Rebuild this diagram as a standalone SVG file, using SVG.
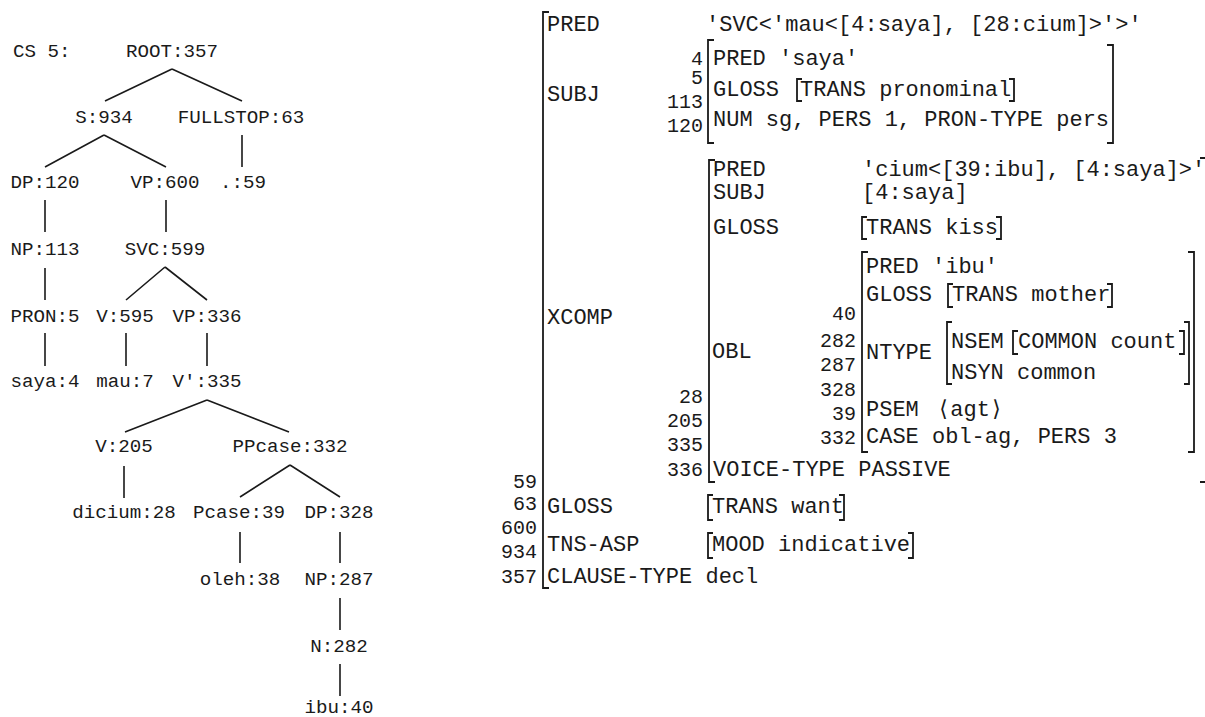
<svg xmlns="http://www.w3.org/2000/svg" width="1205" height="717" viewBox="0 0 1205 717">
<style>
.t{font-family:"Liberation Mono","DejaVu Sans Mono",monospace;font-size:19.2px;fill:#1a1a1a;text-anchor:middle}
.a{font-family:"Liberation Mono","DejaVu Sans Mono",monospace;font-size:22px;fill:#1a1a1a}
.e{text-anchor:end;font-size:20px}
.ln{stroke:#1a1a1a;stroke-width:1.6;fill:none}
.br{stroke:#1a1a1a;stroke-width:1.8;fill:none}
</style>
<rect width="1205" height="717" fill="#fff"/>
<text class="t" x="13" y="57" style="text-anchor:start">CS 5:</text>
<g id="connectors">
<path class="ln" d="M172 69L105 101M172 69L242 101"/>
<path class="ln" d="M104 135L45 167M104 135L166 167M242 135V167"/>
<path class="ln" d="M45 200V232M166 200V232"/>
<path class="ln" d="M45 268V300M165 267L126 300M165 267L207 300"/>
<path class="ln" d="M45 333V366M126 333V366M207 333V366"/>
<path class="ln" d="M207 400L125 432M207 400L289 432"/>
<path class="ln" d="M124 466V498M290 465L240 497M290 465L340 497"/>
<path class="ln" d="M240 532V563M340 532V563M340 598V630M340 664V696"/>
</g>
<g id="n-root"><text class="t" x="172" y="57">ROOT:357</text></g>
<g id="n-s934"><text class="t" x="104" y="123">S:934</text></g>
<g id="n-fullstop63"><text class="t" x="241" y="123">FULLSTOP:63</text></g>
<g id="n-dp120"><text class="t" x="45" y="188">DP:120</text></g>
<g id="n-vp600"><text class="t" x="165" y="188">VP:600</text></g>
<g id="n-dot59"><text class="t" x="243" y="188">.:59</text></g>
<g id="n-np113"><text class="t" x="45" y="255">NP:113</text></g>
<g id="n-svc599"><text class="t" x="165" y="255">SVC:599</text></g>
<g id="n-pron5"><text class="t" x="45" y="322">PRON:5</text></g>
<g id="n-v595"><text class="t" x="125" y="322">V:595</text></g>
<g id="n-vp336"><text class="t" x="207" y="322">VP:336</text></g>
<g id="n-saya4"><text class="t" x="45" y="387">saya:4</text></g>
<g id="n-mau7"><text class="t" x="125" y="387">mau:7</text></g>
<g id="n-vbar335"><text class="t" x="207" y="387">V':335</text></g>
<g id="n-v205"><text class="t" x="124" y="452">V:205</text></g>
<g id="n-ppcase332"><text class="t" x="290" y="452">PPcase:332</text></g>
<g id="n-dicium28"><text class="t" x="124" y="518">dicium:28</text></g>
<g id="n-pcase39"><text class="t" x="239" y="518">Pcase:39</text></g>
<g id="n-dp328"><text class="t" x="339" y="518">DP:328</text></g>
<g id="n-oleh38"><text class="t" x="240" y="585">oleh:38</text></g>
<g id="n-np287"><text class="t" x="339" y="585">NP:287</text></g>
<g id="n-n282"><text class="t" x="339" y="652">N:282</text></g>
<g id="n-ibu40"><text class="t" x="339" y="713">ibu:40</text></g>

<g id="fstructure">
<path class="br" d="M549 12H543V588H549"/>
<text class="a" x="547" y="31">PRED</text>
<text class="a" x="706" y="31">'SVC&lt;'mau&lt;[4:saya], [28:cium]&gt;'&gt;'</text>
<text class="a" x="547" y="101">SUBJ</text>
<g id="subj">
<text class="a e" x="703" y="65">4</text>
<text class="a e" x="703" y="84">5</text>
<text class="a e" x="703" y="108">113</text>
<text class="a e" x="703" y="132">120</text>
<path class="br" d="M714 40H708V143H714"/>
<path class="br" d="M1107 45H1113V143H1107"/>
<text class="a" x="713" y="65">PRED  'saya'</text>
<text class="a" x="713" y="96">GLOSS</text>
<path class="br" d="M802 79H797V101H802"/>
<text class="a" x="800" y="96">TRANS pronominal</text>
<path class="br" d="M1009 79H1014V101H1009"/>
<text class="a" x="713" y="126">NUM sg, PERS 1, PRON-TYPE pers</text>
</g>
<text class="a" x="547" y="324">XCOMP</text>
<g id="xcomp">
<path class="br" d="M715 160H709V482H715"/>
<path class="br" d="M1200 158H1207V482H1200"/>
<text class="a e" x="703" y="403">28</text>
<text class="a e" x="703" y="427">205</text>
<text class="a e" x="703" y="451">335</text>
<text class="a e" x="703" y="476">336</text>
<text class="a" x="713" y="176">PRED</text>
<text class="a" x="862" y="176">'cium&lt;[39:ibu], [4:saya]&gt;'</text>
<text class="a" x="713" y="199">SUBJ</text>
<text class="a" x="862" y="199">[4:saya]</text>
<text class="a" x="713" y="234">GLOSS</text>
<path class="br" d="M867 217H862V239H867"/>
<text class="a" x="866" y="234">TRANS kiss</text>
<path class="br" d="M996 217H1001V239H996"/>
<text class="a" x="712" y="358">OBL</text>
<g id="obl">
<text class="a e" x="856" y="320">40</text>
<text class="a e" x="856" y="347">282</text>
<text class="a e" x="856" y="371">287</text>
<text class="a e" x="856" y="396">328</text>
<text class="a e" x="856" y="420">39</text>
<text class="a e" x="856" y="444">332</text>
<path class="br" d="M868 252H862V452H868"/>
<path class="br" d="M1188 252H1194V452H1188"/>
<text class="a" x="866" y="273">PRED  'ibu'</text>
<text class="a" x="866" y="301">GLOSS</text>
<path class="br" d="M953 284H948V307H953"/>
<text class="a" x="952" y="301">TRANS mother</text>
<path class="br" d="M1107 284H1112V307H1107"/>
<text class="a" x="866" y="359">NTYPE</text>
<path class="br" d="M952 322H947V384H952"/>
<path class="br" d="M1184 322H1189V384H1184"/>
<text class="a" x="951" y="348">NSEM</text>
<path class="br" d="M1018 331H1013V354H1018"/>
<text class="a" x="1018" y="348">COMMON count</text>
<path class="br" d="M1179 331H1184V354H1179"/>
<text class="a" x="951" y="379">NSYN common</text>
<text class="a" x="866" y="416">PSEM</text>
<text class="a" x="937" y="416">⟨agt⟩</text>
<text class="a" x="866" y="443">CASE obl-ag, PERS 3</text>
</g>
<text class="a" x="713" y="476">VOICE-TYPE PASSIVE</text>
</g>
<text class="a e" x="537" y="488">59</text>
<text class="a e" x="537" y="510">63</text>
<text class="a e" x="537" y="534">600</text>
<text class="a e" x="537" y="558">934</text>
<text class="a e" x="537" y="583">357</text>
<text class="a" x="547" y="513">GLOSS</text>
<path class="br" d="M713 495H708V520H713"/>
<text class="a" x="712" y="513">TRANS want</text>
<path class="br" d="M839 495H844V520H839"/>
<text class="a" x="547" y="551">TNS-ASP</text>
<path class="br" d="M713 533H708V558H713"/>
<text class="a" x="712" y="551">MOOD indicative</text>
<path class="br" d="M908 533H913V558H908"/>
<text class="a" x="547" y="583">CLAUSE-TYPE decl</text>
</g>
</svg>
